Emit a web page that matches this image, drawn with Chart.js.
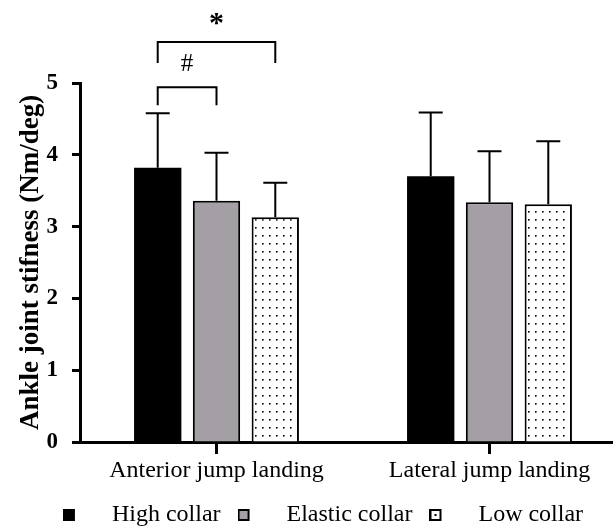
<!DOCTYPE html>
<html>
<head>
<meta charset="utf-8">
<script src="https://cdn.jsdelivr.net/npm/chart.js@4.4.1/dist/chart.umd.min.js"></script>
<style>
  html, body { margin: 0; padding: 0; background: #fff; overflow: hidden; }
  #wrap { position: relative; width: 647px; height: 526px; }
</style>
</head>
<body>
<div id="wrap"><canvas id="myChart"></canvas></div>
<script>
// values (mean and SD, Nm/deg)
const categories = ['Anterior jump landing', 'Lateral jump landing'];
const seriesNames = ['High collar', 'Elastic collar', 'Low collar'];
const highMean = [3.82, 3.70];
const highSd = [0.76, 0.89];
const elasticMean = [3.36, 3.34];
const elasticSd = [0.67, 0.71];
const lowMean = [3.13, 3.31];
const lowSd = [0.48, 0.88];
const yTicks = [0, 1, 2, 3, 4, 5];

// significance brackets within the first category (dataset indexes, heights in axis units)
const brackets = [
  { from: 0, to: 2, top: 5.57, drop: 0.29, label: '*', labelY: 5.82 },
  { from: 0, to: 1, top: 4.94, drop: 0.25, label: '#', labelY: 5.26 }
];

const serif = "'Liberation Serif', 'Times New Roman', serif";

// dotted fill
function dotPattern() {
  const c = document.createElement('canvas');
  c.width = 7; c.height = 8;
  const g = c.getContext('2d');
  g.fillStyle = '#fff';
  g.fillRect(0, 0, 7, 8);
  g.fillStyle = '#000';
  g.fillRect(3, 3, 1.6, 1.6);
  return g.createPattern(c, 'repeat');
}

// legend marker: 12px square at the left of a wider image, so the text sits further off
function legendMarker(kind) {
  const c = document.createElement('canvas');
  c.width = 37; c.height = 14;
  const g = c.getContext('2d');
  if (kind === 0) {
    g.fillStyle = '#000';
    g.fillRect(0, 1, 12, 12);
  } else {
    g.fillStyle = kind === 1 ? '#a39fa5' : '#fff';
    g.fillRect(0, 1, 12, 12);
    g.strokeStyle = '#000';
    g.lineWidth = 2;
    g.strokeRect(1, 2, 10, 10);
    if (kind === 2) {
      g.fillStyle = '#000';
      g.fillRect(5, 6, 2, 2);
    }
  }
  return c;
}

const means = [highMean, elasticMean, lowMean];
const sds = [highSd, elasticSd, lowSd];
const fills = ['#000', '#a39fa5', dotPattern()];

const errorBars = {
  id: 'errorBars',
  afterDatasetsDraw(chart) {
    const ctx = chart.ctx;
    const y = chart.scales.y;
    ctx.save();
    ctx.strokeStyle = '#000';
    ctx.lineWidth = 2;
    chart.data.datasets.forEach((ds, i) => {
      chart.getDatasetMeta(i).data.forEach((bar, j) => {
        const top = y.getPixelForValue(ds.data[j] + sds[i][j]);
        ctx.beginPath();
        ctx.moveTo(bar.x, bar.y);
        ctx.lineTo(bar.x, top);
        ctx.moveTo(bar.x - 12, top);
        ctx.lineTo(bar.x + 12, top);
        ctx.stroke();
      });
    });
    ctx.restore();
  }
};

const sigBrackets = {
  id: 'sigBrackets',
  afterDraw(chart) {
    const ctx = chart.ctx;
    const y = chart.scales.y;
    ctx.save();
    ctx.strokeStyle = '#000';
    ctx.fillStyle = '#000';
    ctx.lineWidth = 2;
    brackets.forEach(b => {
      const x1 = chart.getDatasetMeta(b.from).data[0].x;
      const x2 = chart.getDatasetMeta(b.to).data[0].x;
      const yt = y.getPixelForValue(b.top);
      const yb = y.getPixelForValue(b.top - b.drop);
      ctx.beginPath();
      ctx.moveTo(x1, yb);
      ctx.lineTo(x1, yt);
      ctx.lineTo(x2, yt);
      ctx.lineTo(x2, yb);
      ctx.stroke();
      ctx.font = b.label === '*' ? 'bold 30px ' + serif : '25px ' + serif;
      ctx.textAlign = 'center';
      ctx.textBaseline = 'middle';
      ctx.fillText(b.label, (x1 + x2) / 2, y.getPixelForValue(b.labelY));
    });
    ctx.restore();
  }
};

const ctx = document.getElementById('myChart').getContext('2d');
const chart = new Chart(ctx, {
  type: 'bar',
  data: {
    labels: categories,
    datasets: seriesNames.map((name, i) => ({
      label: name,
      data: means[i],
      backgroundColor: fills[i],
      borderColor: '#000',
      borderWidth: i === 0 ? 0 : 2,
      borderSkipped: 'start',
      categoryPercentage: 0.646,
      barPercentage: 0.805
    }))
  },
  options: {
    responsive: true,
    maintainAspectRatio: false,
    animation: false,
    layout: { padding: { top: 83, left: 20, right: 21, bottom: -11 } },
    scales: {
      x: {
        offset: true,
        grid: { offset: false, drawOnChartArea: false, tickLength: 12, tickWidth: 3, tickColor: '#000' },
        border: { color: '#000', width: 3 },
        ticks: { color: '#000', font: { family: serif, size: 24 }, padding: 2, maxRotation: 0 },
        afterFit(scale) { scale.height = 44; }
      },
      y: {
        min: 0,
        max: 5,
        afterBuildTicks(scale) { scale.ticks = yTicks.map(v => ({ value: v })); },
        grid: { drawOnChartArea: false, tickLength: 8, tickWidth: 3, tickColor: '#000' },
        border: { color: '#000', width: 3 },
        ticks: { color: '#000', font: { family: serif, size: 23, weight: 'bold' }, padding: 14 },
        title: {
          display: true,
          text: 'Ankle joint stifness (Nm/deg)',
          color: '#000',
          font: { family: serif, size: 27, weight: 'bold', lineHeight: 0.8 },
          padding: 0
        },
        afterFit(scale) { scale.width = 60; }
      }
    },
    plugins: {
      tooltip: { enabled: false },
      legend: {
        position: 'bottom',
        labels: {
          color: '#000',
          font: { family: serif, size: 24 },
          usePointStyle: true,
          pointStyleWidth: 37,
          padding: 17,
          generateLabels(chart) {
            return Chart.defaults.plugins.legend.labels.generateLabels(chart).map((item, i) => {
              item.pointStyle = legendMarker(i);
              return item;
            });
          }
        }
      }
    }
  },
  plugins: [errorBars, sigBrackets]
});
</script>
</body>
</html>
